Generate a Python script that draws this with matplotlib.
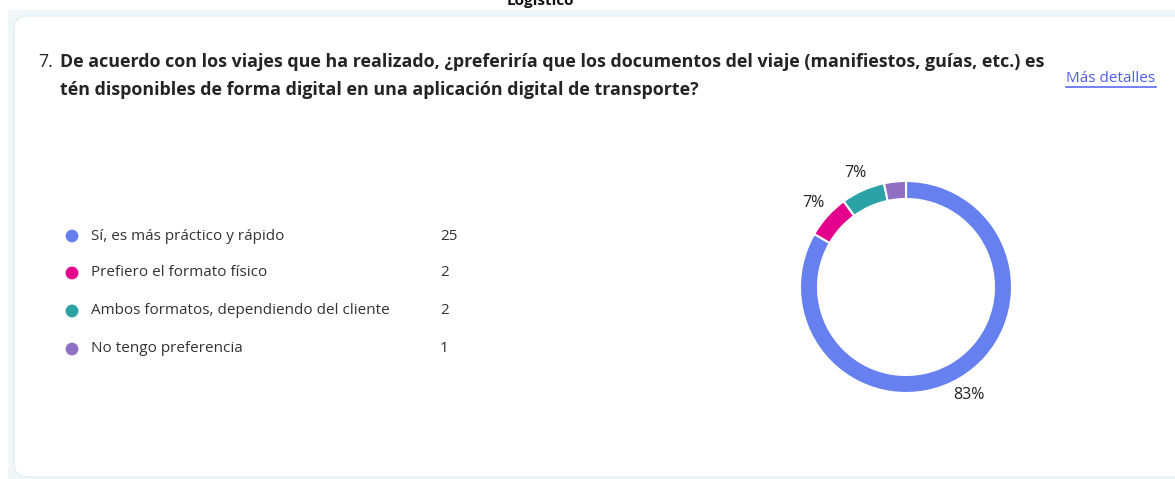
import matplotlib.pyplot as plt
from matplotlib.patches import FancyBboxPatch, Rectangle

plt.rcParams['font.family'] = ['Open Sans', 'DejaVu Sans']

categories = [
    "Sí, es más práctico y rápido",
    "Prefiero el formato físico",
    "Ambos formatos, dependiendo del cliente",
    "No tengo preferencia",
]
counts = [25, 2, 2, 1]
colors = ["#6680ef", "#e3008c", "#2ba2a5", "#8f6fc2"]

question = [
    "De acuerdo con los viajes que ha realizado, ¿preferiría que los documentos del viaje (manifiestos, guías, etc.) es",
    "tén disponibles de forma digital en una aplicación digital de transporte?",
]

W, H = 1175, 479
fig = plt.figure(figsize=(W / 100, H / 100), dpi=100)
ax = fig.add_axes([0, 0, 1, 1])
ax.set_xlim(0, W)
ax.set_ylim(H, 0)
ax.axis("off")

# card background
ax.add_patch(Rectangle((8, 10), W, H, facecolor="#eff7f8", edgecolor="none"))
ax.add_patch(FancyBboxPatch((14, 16), W + 40, 461, boxstyle="round,pad=0,rounding_size=14",
                            facecolor="white", edgecolor="#e6eff3", linewidth=1))

# section title cut at the top
ax.text(540, 5, "Logístico", ha="center", va="baseline", fontsize=11, fontweight="bold", color="#111")

ax.text(38, 67, "7.", ha="left", va="baseline", fontsize=12.9, color="#242424")
for i, line in enumerate(question):
    ax.text(60, 67 + 28 * i, line, ha="left", va="baseline", fontsize=12.9, fontweight="bold",
            color="#242424")

ax.text(1066, 82, "Más detalles", ha="left", va="baseline", fontsize=11, color="#4f5fe8")
ax.plot([1066, 1156], [87, 87], color="#5b6cf0", linewidth=1.2)

# legend
rows = [236, 273, 311, 349]
for y, cat, n, c in zip(rows, categories, counts, colors):
    ax.scatter(72, y, s=85, color=c, edgecolor="none")
    ax.text(91, y, cat, ha="left", va="center", fontsize=11, color="#333")
    ax.text(440, y, str(n), ha="left", va="center", fontsize=11, color="#333")

# donut
cx, cy, box = 906, 287, 150
ax2 = fig.add_axes([(cx - box) / W, (H - cy - box) / H, 2 * box / W, 2 * box / H])


def pct(p):
    return f"{p:.0f}%" if p >= 5 else ""


wedges, texts, autotexts = ax2.pie(counts, colors=colors, startangle=90, counterclock=False,
                                   radius=106, wedgeprops=dict(width=18, edgecolor="white", linewidth=1.5),
                                   autopct=pct, pctdistance=1.18, frame=True)
for t in autotexts:
    t.set_fontsize(11.5)
    t.set_color("#222")
ax2.set_xlim(-box, box)
ax2.set_ylim(-box, box)
ax2.axis("off")

fig.savefig("out.png", dpi=100)
